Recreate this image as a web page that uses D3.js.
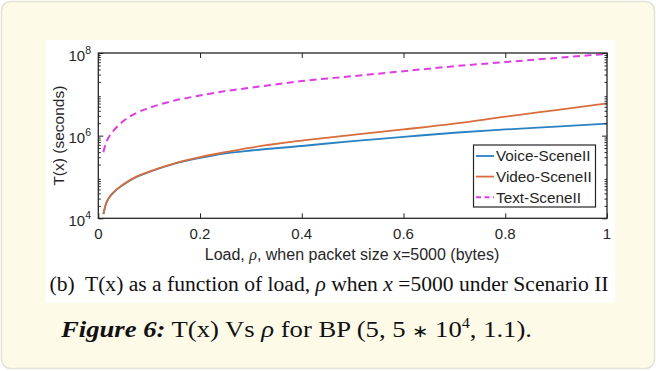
<!DOCTYPE html>
<html><head><meta charset="utf-8">
<script src="https://cdn.jsdelivr.net/npm/d3@7"></script>
<style>html,body{margin:0;padding:0;background:#fff;}svg{display:block;}</style>
</head><body>
<svg id="c" width="656" height="371"></svg>
<script>
const loads = [0.01, 0.015, 0.02, 0.03, 0.05, 0.075, 0.1, 0.15, 0.2, 0.25, 0.3, 0.4, 0.5, 0.6, 0.7, 0.8, 0.9, 1.0];
const voiceT = [12600, 21900, 29500, 41700, 66100, 100000, 132000, 209000, 288000, 372000, 437000, 562000, 741000, 933000, 1175000, 1413000, 1660000, 1950000];
const videoT = [12600, 22400, 30200, 42700, 67600, 102000, 135000, 214000, 302000, 398000, 513000, 759000, 1047000, 1413000, 1950000, 2880000, 4170000, 6030000];
const textT  = [398000, 661000, 891000, 1318000, 2290000, 3550000, 4680000, 7080000, 9330000, 12000000, 14500000, 20900000, 27500000, 36300000, 47900000, 60300000, 75900000, 95500000];
const seriesNames = ["Voice-SceneII", "Video-SceneII", "Text-SceneII"];
const xTicks = [0, 0.2, 0.4, 0.6, 0.8, 1];
const xTickLabels = ["0", "0.2", "0.4", "0.6", "0.8", "1"];
const yTicks = [1e4, 1e6, 1e8];
const yTickExp = ["4", "6", "8"];

const svg = d3.select("#c");
svg.append("rect").attr("x", 1.5).attr("y", 1.5).attr("width", 653).attr("height", 367)
  .attr("rx", 9).attr("fill", "#fdfae8").attr("stroke", "#e4e2d6").attr("stroke-width", 1.5);
svg.append("rect").attr("x", 46).attr("y", 40).attr("width", 569).attr("height", 263).attr("fill", "#fff");

const L = 98.3, R = 607, T = 53, B = 218.3;
const x = d3.scaleLinear().domain([0, 1]).range([L, R]);
const y = d3.scaleLog().domain([1e4, 1e8]).range([B, T]);
const axisCol = "#262626";
const sans = "Liberation Sans, Arial, sans-serif";

const g = svg.append("g");
const colors = ["#2a82c2", "#d86c3c", "#e03ce6"];
const data = [voiceT, videoT, textT];
const line = d3.line().curve(d3.curveMonotoneX);
data.forEach((arr, i) => {
  const pts = loads.map((l, k) => [x(l), y(arr[k])]);
  const p = g.append("path").attr("d", line(pts)).attr("fill", "none")
    .attr("stroke", colors[i]).attr("stroke-width", i === 2 ? 2 : 1.8);
  if (i === 2) p.attr("stroke-dasharray", "7,4.5");
});

const axB = d3.axisBottom(x).tickValues(xTicks).tickSize(-5).tickFormat("");
const axT = d3.axisTop(x).tickValues(xTicks).tickSize(-5).tickFormat("");
const minor = [];
for (let e = 4; e < 8; e++) for (let m = 2; m <= 9; m++) minor.push(m * Math.pow(10, e));
function yAxis(gen, xpos) {
  const a1 = g.append("g").attr("transform", `translate(${xpos},0)`)
    .call(gen(y).tickValues(yTicks).tickSize(-5).tickFormat(""));
  const a2 = g.append("g").attr("transform", `translate(${xpos},0)`)
    .call(gen(y).tickValues(minor).tickSize(-2.5).tickFormat(""));
  [a1, a2].forEach(a => { a.select(".domain").remove(); a.selectAll("line").attr("stroke", axisCol); });
}
yAxis(d3.axisLeft, L);
yAxis(d3.axisRight, R);
const gb = g.append("g").attr("transform", `translate(0,${B})`).call(axB);
const gt = g.append("g").attr("transform", `translate(0,${T})`).call(axT);
[gb, gt].forEach(a => { a.select(".domain").remove(); a.selectAll("line").attr("stroke", axisCol); });
g.append("rect").attr("x", L).attr("y", T).attr("width", R - L).attr("height", B - T)
  .attr("fill", "none").attr("stroke", axisCol).attr("stroke-width", 1.3);

g.selectAll(".xl").data(xTicks).enter().append("text")
  .attr("x", d => x(d)).attr("y", 238.5).attr("text-anchor", "middle")
  .attr("font-family", sans).attr("font-size", 15).attr("fill", axisCol)
  .text((d, i) => xTickLabels[i]);
yTicks.forEach((v, i) => {
  const t = g.append("text").attr("x", 91).attr("y", y(v) + 7.5).attr("text-anchor", "end")
    .attr("font-family", sans).attr("font-size", 15).attr("fill", axisCol);
  t.append("tspan").text("10");
  t.append("tspan").attr("dy", -7).attr("font-size", 10.5).text(yTickExp[i]);
});
g.append("text").attr("transform", `translate(64,${(T + B) / 2}) rotate(-90)`)
  .attr("text-anchor", "middle").attr("font-family", sans).attr("font-size", 15.5).attr("fill", axisCol)
  .text("T(x) (seconds)");
const xl = g.append("text").attr("x", 352).attr("y", 259.5).attr("text-anchor", "middle")
  .attr("font-family", sans).attr("font-size", 16).attr("fill", axisCol);
xl.append("tspan").text("Load, ");
xl.append("tspan").attr("font-family", "Liberation Serif, serif").attr("font-style", "italic").text("ρ");
xl.append("tspan").text(", when packet size x=5000 (bytes)");

const lg = g.append("g");
lg.append("rect").attr("x", 473.5).attr("y", 145).attr("width", 122).attr("height", 62)
  .attr("fill", "#fff").attr("stroke", axisCol).attr("stroke-width", 1.2);
seriesNames.forEach((n, i) => {
  const cy = 156 + i * 20.6;
  const ln = lg.append("line").attr("x1", 476).attr("x2", 494).attr("y1", cy).attr("y2", cy)
    .attr("stroke", colors[i]).attr("stroke-width", i === 2 ? 2 : 1.8);
  if (i === 2) ln.attr("stroke-dasharray", "5,3.5");
  lg.append("text").attr("x", 496).attr("y", cy + 5.3).attr("font-family", sans)
    .attr("font-size", 15.3).attr("fill", axisCol).text(n);
});

const serif = "Liberation Serif, 'Times New Roman', serif";
const cb = svg.append("text").attr("x", 49.5).attr("y", 291).attr("font-family", serif)
  .attr("font-size", 20).attr("fill", "#111")
  .attr("textLength", 559).attr("lengthAdjust", "spacingAndGlyphs");
cb.append("tspan").text("(b)\u00a0 T(x) as a function of load, ");
cb.append("tspan").attr("font-style", "italic").text("ρ");
cb.append("tspan").text(" when ");
cb.append("tspan").attr("font-style", "italic").text("x");
cb.append("tspan").text(" =5000 under Scenario II");
const fc = svg.append("text").attr("x", 61).attr("y", 337).attr("font-family", serif)
  .attr("font-size", 23).attr("fill", "#111")
  .attr("textLength", 471).attr("lengthAdjust", "spacingAndGlyphs");
fc.append("tspan").attr("font-weight", "bold").attr("font-style", "italic").text("Figure 6:");
fc.append("tspan").text(" T(x) Vs ");
fc.append("tspan").attr("font-style", "italic").text("ρ");
fc.append("tspan").text(" for BP (5, 5 ");
fc.append("tspan").attr("font-size", 17).text("∗");
fc.append("tspan").text(" 10");
fc.append("tspan").attr("dy", -9).attr("font-size", 14).text("4");
fc.append("tspan").attr("dy", 9).text(", 1.1).");
</script>
</body></html>
